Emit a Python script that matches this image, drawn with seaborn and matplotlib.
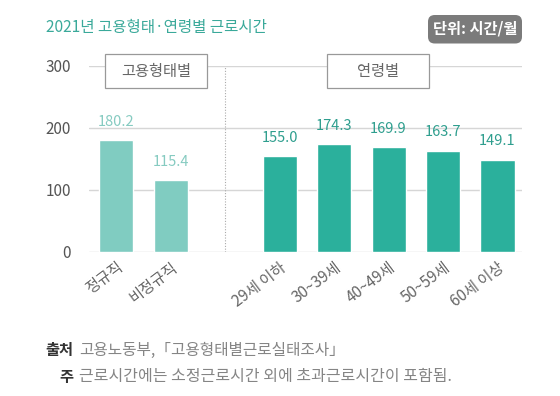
import matplotlib
matplotlib.use("Agg")
import matplotlib.pyplot as plt
import seaborn as sns
import pandas as pd
from matplotlib.patches import Rectangle, FancyBboxPatch

sns.set_style("white")
plt.rcParams['font.family'] = ['Noto Sans CJK KR', 'DejaVu Sans']

categories = ['정규직', '비정규직', '', '29세 이하', '30~39세', '40~49세', '50~59세', '60세 이상']
bar_categories = ['정규직', '비정규직', '29세 이하', '30~39세', '40~49세', '50~59세', '60세 이상']
values = [180.2, 115.4, 155.0, 174.3, 169.9, 163.7, 149.1]
groups = ['고용형태별', '고용형태별', '연령별', '연령별', '연령별', '연령별', '연령별']
yticks = [0, 100, 200, 300]

light = '#80CCC1'
dark = '#2BB09C'
light_txt = '#86CBC1'
dark_txt = '#2E9E8E'

W, H = 560, 396
df = pd.DataFrame({'cat': bar_categories, 'val': values, 'grp': groups})

fig = plt.figure(figsize=(5.6, 3.96), dpi=100)
ax = fig.add_axes([89/W, 1-252/H, (522-89)/W, (252-66)/H])

sns.barplot(data=df, x='cat', y='val', hue='grp', order=categories,
            palette={'고용형태별': light, '연령별': dark}, dodge=False,
            width=0.625, legend=False, ax=ax, saturation=1)

ax.set_xlim(-0.5, 7.45)
ax.set_ylim(0, 300)
ax.set_yticks(yticks)
ax.set_yticklabels([str(t) for t in yticks])
ax.yaxis.grid(True, color='#d6d6d6', linewidth=1)
ax.set_axisbelow(True)
for s in ax.spines.values():
    s.set_visible(False)
ax.set_xlabel('')
ax.set_ylabel('')
ax.tick_params(axis='y', length=0, pad=13, labelsize=11, labelcolor='#555555')
ax.tick_params(axis='x', length=0, pad=5, labelsize=11, labelcolor='#666666')
ax.set_xticks(range(len(categories)))
ax.set_xticklabels(categories, rotation=37, ha='right', rotation_mode='anchor')

# value labels
pos = [0, 1, 3, 4, 5, 6, 7]
for p, v, g in zip(pos, values, groups):
    c = light_txt if g == '고용형태별' else dark_txt
    ax.annotate(f'{v:.1f}', (p, v), xytext=(0, 8), textcoords='offset points',
                ha='center', va='bottom', fontsize=10.5, color=c)

# divider
ax.axvline(2, ymin=0, ymax=1, color='#aaaaaa', linestyle=(0, (1, 1.5)), linewidth=0.8)

# group boxes
box_w = 102/54.5
for cx, label in [(0.73, '고용형태별'), (4.8, '연령별')]:
    ax.add_patch(Rectangle((cx - box_w/2, 264.5), box_w, 54.5, facecolor='white',
                           edgecolor='#999999', linewidth=0.9, clip_on=False, zorder=5))
    ax.text(cx, 291.5, label, ha='center', va='center', fontsize=11,
            color='#666666', zorder=6, clip_on=False)

# title
fig.text(46/W, 1-27/H, '2021년 고용형태·연령별 근로시간', ha='left', va='center',
         fontsize=11.2, color='#3AA99A')

# unit badge
fig.patches.append(FancyBboxPatch((428/W, 1-43.5/H), 94/W, 28.5/H,
                                  boxstyle='round,pad=0,rounding_size=0.012',
                                  transform=fig.transFigure, facecolor='#7b7b7b',
                                  edgecolor='none', mutation_aspect=W/H))
fig.text(475/W, 1-29/H, '단위: 시간/월', ha='center', va='center',
         fontsize=11, color='white', fontweight='bold')

# footer
fig.text(45/W, 1-350/H, '출처', ha='left', va='center', fontsize=11,
         color='#333333', fontweight='bold')
fig.text(79/W, 1-350/H, '고용노동부,「고용형태별근로실태조사」', ha='left', va='center',
         fontsize=11.3, color='#858585')
fig.text(73/W, 1-377/H, '주', ha='right', va='center', fontsize=11,
         color='#333333', fontweight='bold')
fig.text(79/W, 1-377/H, '근로시간에는 소정근로시간 외에 초과근로시간이 포함됨.', ha='left', va='center',
         fontsize=11.5, color='#858585')

fig.savefig('out.png', dpi=100)
